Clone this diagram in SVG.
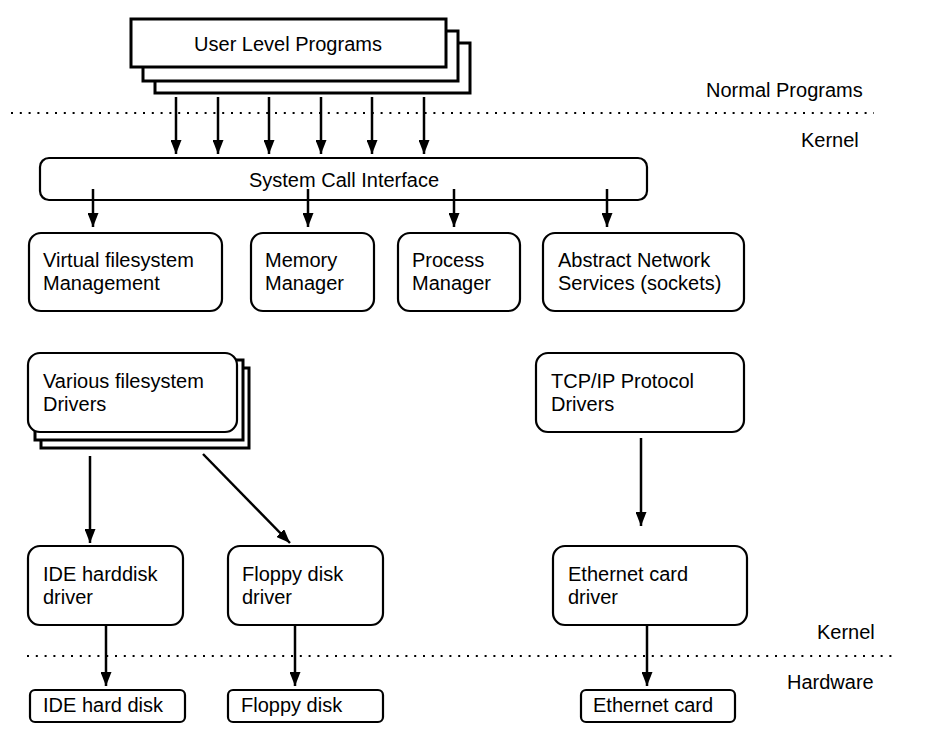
<svg xmlns="http://www.w3.org/2000/svg" width="942" height="745" viewBox="0 0 942 745">
<defs>
<marker id="ah" viewBox="0 0 14 11" refX="14" refY="5.5" markerWidth="14" markerHeight="11" markerUnits="userSpaceOnUse" orient="auto">
<path d="M0,0 L14,5.5 L0,11 z" fill="#000"/>
</marker>
<style>
text{font-family:"Liberation Sans",Arial,sans-serif;font-size:20px;fill:#000}
.box{fill:#fff;stroke:#000;stroke-width:2.2}
.thick{fill:#fff;stroke:#000;stroke-width:3}
.arr{stroke:#000;stroke-width:2.5;fill:none;marker-end:url(#ah)}
.dot{stroke:#000;stroke-width:2;stroke-dasharray:2 6.8;fill:none}
</style>
</defs>
<rect width="942" height="745" fill="#fff"/>
<g id="separators">
<line class="dot" x1="11" y1="113" x2="874" y2="113"/>
<line class="dot" x1="27" y1="656" x2="892" y2="656"/>
</g>
<g id="layer-labels">
<text x="706" y="97">Normal Programs</text>
<text x="801" y="147">Kernel</text>
<text x="817" y="639">Kernel</text>
<text x="787" y="689">Hardware</text>
</g>
<g id="user-programs">
<rect class="thick" x="155" y="43" width="315" height="50"/>
<rect class="thick" x="143" y="31" width="315" height="50"/>
<rect class="thick" x="131" y="19" width="315" height="48"/>
<text x="288" y="51" text-anchor="middle">User Level Programs</text>
</g>
<g id="syscall">
<rect class="box" x="40" y="158" width="607" height="42" rx="9"/>
<text x="344" y="187" text-anchor="middle">System Call Interface</text>
</g>
<g id="vfs">
<rect class="box" x="29" y="233" width="193" height="78" rx="12"/>
<text x="43" y="267">Virtual filesystem</text>
<text x="43" y="290">Management</text>
</g>
<g id="memory">
<rect class="box" x="251" y="233" width="123" height="78" rx="12"/>
<text x="265" y="267">Memory</text>
<text x="265" y="290">Manager</text>
</g>
<g id="process">
<rect class="box" x="398" y="233" width="122" height="78" rx="12"/>
<text x="412" y="267">Process</text>
<text x="412" y="290">Manager</text>
</g>
<g id="network">
<rect class="box" x="543" y="233" width="201" height="78" rx="12"/>
<text x="558" y="267">Abstract Network</text>
<text x="558" y="290">Services (sockets)</text>
</g>
<g id="fs-drivers">
<rect class="thick" x="41" y="368" width="208" height="80"/>
<rect class="thick" x="35" y="360" width="208" height="80"/>
<rect class="box" x="28" y="353" width="209" height="79" rx="12"/>
<text x="43" y="388">Various filesystem</text>
<text x="43" y="411">Drivers</text>
</g>
<g id="tcpip">
<rect class="box" x="536" y="353" width="208" height="79" rx="12"/>
<text x="551" y="388">TCP/IP Protocol</text>
<text x="551" y="411">Drivers</text>
</g>
<g id="ide-driver">
<rect class="box" x="28" y="546" width="155" height="79" rx="12"/>
<text x="43" y="581">IDE harddisk</text>
<text x="43" y="604">driver</text>
</g>
<g id="floppy-driver">
<rect class="box" x="228" y="546" width="155" height="79" rx="12"/>
<text x="242" y="581">Floppy disk</text>
<text x="242" y="604">driver</text>
</g>
<g id="eth-driver">
<rect class="box" x="553" y="546" width="194" height="79" rx="12"/>
<text x="568" y="581">Ethernet card</text>
<text x="568" y="604">driver</text>
</g>
<g id="ide-disk">
<rect class="box" x="30" y="690" width="155" height="32" rx="5"/>
<text x="43" y="712">IDE hard disk</text>
</g>
<g id="floppy-disk">
<rect class="box" x="228" y="690" width="155" height="32" rx="5"/>
<text x="241" y="712">Floppy disk</text>
</g>
<g id="eth-card">
<rect class="box" x="581" y="690" width="154" height="32" rx="5"/>
<text x="593" y="712">Ethernet card</text>
</g>
<g id="connectors">
<line class="arr" x1="176" y1="97" x2="176" y2="154"/>
<line class="arr" x1="218" y1="97" x2="218" y2="154"/>
<line class="arr" x1="269" y1="97" x2="269" y2="154"/>
<line class="arr" x1="321" y1="97" x2="321" y2="154"/>
<line class="arr" x1="372" y1="97" x2="372" y2="154"/>
<line class="arr" x1="424" y1="97" x2="424" y2="154"/>
<line class="arr" x1="93" y1="189" x2="93" y2="227"/>
<line class="arr" x1="308" y1="189" x2="308" y2="227"/>
<line class="arr" x1="454" y1="189" x2="454" y2="227"/>
<line class="arr" x1="607" y1="189" x2="607" y2="227"/>
<line class="arr" x1="90" y1="456" x2="90" y2="543"/>
<line class="arr" x1="203" y1="454" x2="290" y2="543"/>
<line class="arr" x1="641" y1="438" x2="641" y2="526"/>
<line class="arr" x1="106" y1="625" x2="106" y2="686"/>
<line class="arr" x1="295" y1="625" x2="295" y2="686"/>
<line class="arr" x1="647" y1="625" x2="647" y2="686"/>
</g>
</svg>
